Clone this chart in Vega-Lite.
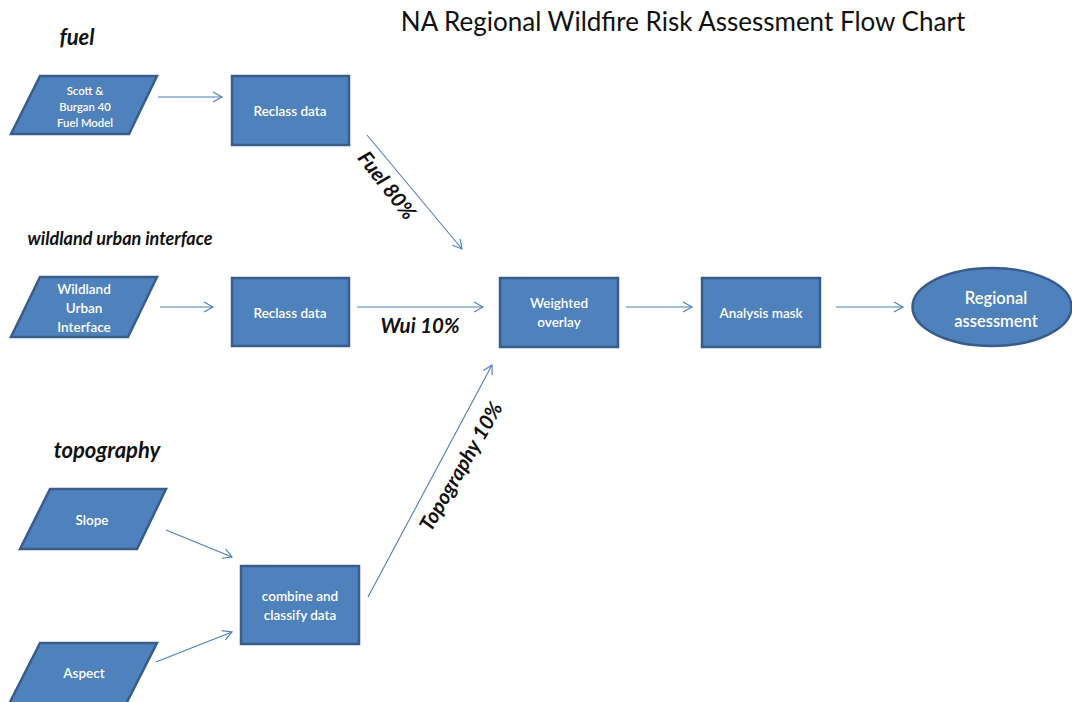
{
  "$schema": "https://vega.github.io/schema/vega-lite/v6.json",
  "autosize": "none",
  "width": 1072,
  "height": 702,
  "padding": 0,
  "background": "white",
  "config": {"view": {"stroke": null}, "axis": {"disable": true}},
  "datasets": {
    "boxes": [
      {"id": "reclass1", "x0": 232, "x1": 349, "y0": 76, "y1": 145},
      {"id": "reclass2", "x0": 232, "x1": 349, "y0": 278, "y1": 346},
      {"id": "weighted", "x0": 500, "x1": 618, "y0": 278, "y1": 347},
      {"id": "mask", "x0": 702, "x1": 820, "y0": 278, "y1": 347},
      {"id": "combine", "x0": 241, "x1": 359, "y0": 566, "y1": 644}
    ],
    "paras": [
      {"id": "scott", "y": 76, "xl": 40, "xr": 157},
      {"id": "scott", "y": 134, "xl": 11, "xr": 129},
      {"id": "wui", "y": 277, "xl": 40, "xr": 157},
      {"id": "wui", "y": 337, "xl": 11, "xr": 128},
      {"id": "slope", "y": 489, "xl": 50, "xr": 166},
      {"id": "slope", "y": 549, "xl": 20, "xr": 137},
      {"id": "aspect", "y": 643, "xl": 40, "xr": 157},
      {"id": "aspect", "y": 704, "xl": 9, "xr": 126}
    ],
    "ovals": [
      {"id": "regional", "x": 992, "y": 307}
    ],
    "arrows": [
      {"from": "scott", "to": "reclass1", "x1": 158, "y1": 97, "x2": 222, "y2": 97},
      {"from": "reclass1", "to": "weighted", "x1": 367, "y1": 135, "x2": 462, "y2": 249},
      {"from": "wui", "to": "reclass2", "x1": 160, "y1": 307, "x2": 213, "y2": 307},
      {"from": "reclass2", "to": "weighted", "x1": 357, "y1": 307, "x2": 483, "y2": 307},
      {"from": "weighted", "to": "mask", "x1": 626, "y1": 307, "x2": 692, "y2": 307},
      {"from": "mask", "to": "regional", "x1": 836, "y1": 307, "x2": 903, "y2": 307},
      {"from": "slope", "to": "combine", "x1": 166, "y1": 530, "x2": 232, "y2": 557},
      {"from": "aspect", "to": "combine", "x1": 156, "y1": 662, "x2": 232, "y2": 632},
      {"from": "combine", "to": "weighted", "x1": 368, "y1": 597, "x2": 492, "y2": 365}
    ],
    "labels": [
      {"role": "small", "label": "Scott &\nBurgan 40\nFuel Model", "x": 85, "y": 92},
      {"role": "box", "label": "Reclass data", "x": 290, "y": 112},
      {"role": "box", "label": "Wildland\nUrban\nInterface", "x": 84, "y": 290},
      {"role": "box", "label": "Reclass data", "x": 290, "y": 314},
      {"role": "box", "label": "Weighted\noverlay", "x": 559, "y": 304},
      {"role": "box", "label": "Analysis mask", "x": 761, "y": 314},
      {"role": "box", "label": "Slope", "x": 92, "y": 521},
      {"role": "box", "label": "Aspect", "x": 84, "y": 674},
      {"role": "box", "label": "combine and\nclassify data", "x": 300, "y": 597},
      {"role": "big", "label": "Regional\nassessment", "x": 996, "y": 299}
    ],
    "notes": [
      {"role": "title", "label": "NA Regional Wildfire Risk Assessment Flow Chart", "x": 683, "y": 23, "angle": 0},
      {"role": "section", "label": "fuel", "x": 77, "y": 38, "angle": 0},
      {"role": "section", "label": "topography", "x": 107, "y": 451, "angle": 0},
      {"role": "section2", "label": "wildland urban interface", "x": 120, "y": 240, "angle": 0},
      {"role": "weight", "label": "Fuel 80%", "x": 386, "y": 186, "angle": 52},
      {"role": "weight", "label": "Wui 10%", "x": 420, "y": 327, "angle": 0},
      {"role": "weight", "label": "Topography 10%", "x": 462, "y": 467, "angle": -60}
    ]
  },
  "encoding": {
    "x": {"type": "quantitative", "scale": {"domain": [0, 1072], "nice": false, "zero": false}, "axis": null},
    "y": {"type": "quantitative", "scale": {"domain": [702, 0], "nice": false, "zero": false}, "axis": null}
  },
  "layer": [
    {
      "data": {"name": "arrows"},
      "mark": {"type": "rule", "color": "#4A7EBB", "strokeWidth": 1.1},
      "encoding": {
        "x": {"field": "x1", "type": "quantitative"},
        "y": {"field": "y1", "type": "quantitative"},
        "x2": {"field": "x2"},
        "y2": {"field": "y2"}
      }
    },
    {
      "data": {"name": "arrows"},
      "transform": [
        {"calculate": "atan2(datum.y2 - datum.y1, datum.x2 - datum.x1) * 180 / PI", "as": "dir"}
      ],
      "mark": {"type": "point", "shape": "M -1.8 -1 L 0 0 L -1.8 1", "filled": false, "stroke": "#4A7EBB", "strokeWidth": 1.1, "size": 100, "opacity": 1},
      "encoding": {
        "x": {"field": "x2", "type": "quantitative"},
        "y": {"field": "y2", "type": "quantitative"},
        "angle": {"field": "dir", "type": "quantitative", "scale": null}
      }
    },
    {
      "data": {"name": "boxes"},
      "mark": {"type": "rect", "fill": "#4F81BD", "stroke": "#385D8A", "strokeWidth": 2.5},
      "encoding": {
        "x": {"field": "x0", "type": "quantitative"},
        "x2": {"field": "x1"},
        "y": {"field": "y0", "type": "quantitative"},
        "y2": {"field": "y1"}
      }
    },
    {
      "data": {"name": "paras"},
      "mark": {"type": "area", "orient": "horizontal", "fill": "#4F81BD", "stroke": "#385D8A", "strokeWidth": 2.5, "fillOpacity": 1, "strokeJoin": "miter"},
      "encoding": {
        "y": {"field": "y", "type": "quantitative"},
        "x": {"field": "xl", "type": "quantitative"},
        "x2": {"field": "xr"},
        "detail": {"field": "id"}
      }
    },
    {
      "data": {"name": "ovals"},
      "mark": {"type": "point", "shape": "M -1 0 A 1 0.49 0 1 1 1 0 A 1 0.49 0 1 1 -1 0 Z", "filled": true, "fill": "#4F81BD", "stroke": "#385D8A", "strokeWidth": 2.5, "size": 25281, "opacity": 1},
      "encoding": {
        "x": {"field": "x", "type": "quantitative"},
        "y": {"field": "y", "type": "quantitative"}
      }
    },
    {
      "data": {"name": "labels"},
      "transform": [{"filter": "datum.role == 'small'"}],
      "mark": {"type": "text", "font": "Lato", "fontSize": 11.3, "fontWeight": 600, "color": "white", "lineBreak": "\n", "lineHeight": 16, "align": "center", "baseline": "middle"},
      "encoding": {
        "x": {"field": "x", "type": "quantitative"},
        "y": {"field": "y", "type": "quantitative"},
        "text": {"field": "label"}
      }
    },
    {
      "data": {"name": "labels"},
      "transform": [{"filter": "datum.role == 'box'"}],
      "mark": {"type": "text", "font": "Lato", "fontSize": 13.5, "fontWeight": 600, "color": "white", "lineBreak": "\n", "lineHeight": 19, "align": "center", "baseline": "middle"},
      "encoding": {
        "x": {"field": "x", "type": "quantitative"},
        "y": {"field": "y", "type": "quantitative"},
        "text": {"field": "label"}
      }
    },
    {
      "data": {"name": "labels"},
      "transform": [{"filter": "datum.role == 'big'"}],
      "mark": {"type": "text", "font": "Lato", "fontSize": 16.5, "fontWeight": 600, "color": "white", "lineBreak": "\n", "lineHeight": 23, "align": "center", "baseline": "middle"},
      "encoding": {
        "x": {"field": "x", "type": "quantitative"},
        "y": {"field": "y", "type": "quantitative"},
        "text": {"field": "label"}
      }
    },
    {
      "data": {"name": "notes"},
      "transform": [{"filter": "datum.role == 'title'"}],
      "mark": {"type": "text", "font": "Lato", "fontSize": 26, "color": "#111111", "align": "center", "baseline": "middle"},
      "encoding": {
        "x": {"field": "x", "type": "quantitative"},
        "y": {"field": "y", "type": "quantitative"},
        "text": {"field": "label"}
      }
    },
    {
      "data": {"name": "notes"},
      "transform": [{"filter": "datum.role == 'section'"}],
      "mark": {"type": "text", "font": "Lato", "fontSize": 22, "fontWeight": "bold", "fontStyle": "italic", "color": "#111111", "align": "center", "baseline": "middle"},
      "encoding": {
        "x": {"field": "x", "type": "quantitative"},
        "y": {"field": "y", "type": "quantitative"},
        "text": {"field": "label"}
      }
    },
    {
      "data": {"name": "notes"},
      "transform": [{"filter": "datum.role == 'section2'"}],
      "mark": {"type": "text", "font": "Lato", "fontSize": 18, "fontWeight": "bold", "fontStyle": "italic", "color": "#111111", "align": "center", "baseline": "middle"},
      "encoding": {
        "x": {"field": "x", "type": "quantitative"},
        "y": {"field": "y", "type": "quantitative"},
        "text": {"field": "label"}
      }
    },
    {
      "data": {"name": "notes"},
      "transform": [{"filter": "datum.role == 'weight'"}],
      "mark": {"type": "text", "font": "Lato", "fontSize": 20.5, "fontWeight": "bold", "fontStyle": "italic", "color": "#111111", "align": "center", "baseline": "middle"},
      "encoding": {
        "x": {"field": "x", "type": "quantitative"},
        "y": {"field": "y", "type": "quantitative"},
        "angle": {"field": "angle", "type": "quantitative", "scale": null},
        "text": {"field": "label"}
      }
    }
  ]
}
